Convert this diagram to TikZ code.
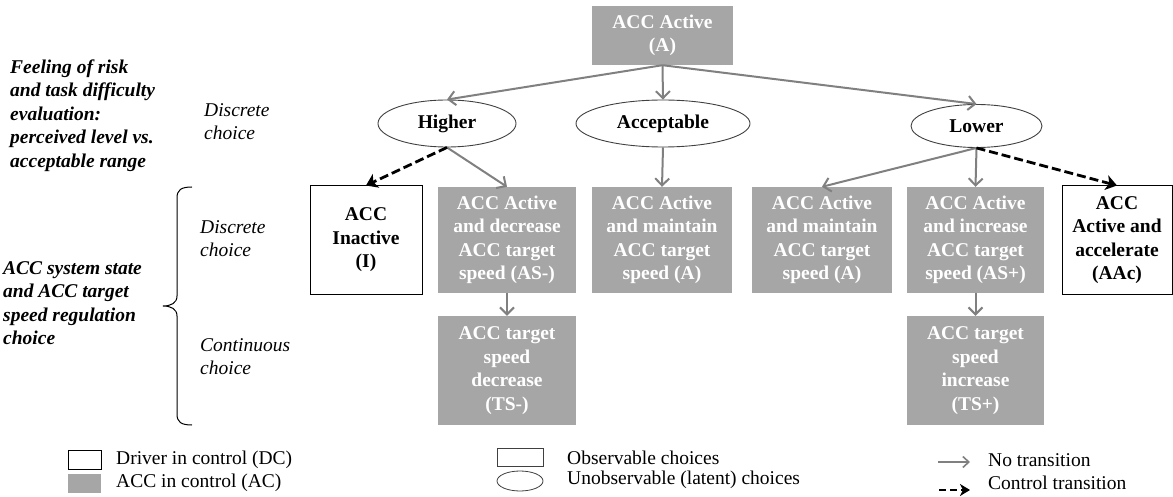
\documentclass[tikz,border=0pt]{standalone}
\usepackage{fontspec}
\setmainfont{LiberationSerif}[Extension=.ttf, UprightFont=*-Regular, BoldFont=*-Bold, ItalicFont=*-Italic, BoldItalicFont=*-BoldItalic]
\usetikzlibrary{arrows.meta,shapes.geometric}
\definecolor{boxgray}{HTML}{A6A6A6}
\definecolor{arrgray}{HTML}{808080}
\definecolor{ellline}{HTML}{404040}
\begin{document}
\begin{tikzpicture}[x=1pt,y=-1pt,
  base/.style={font=\fontsize{19.5}{23.5}\selectfont},
  gbox/.style={base, fill=boxgray, text=white, font=\fontsize{19.5}{23.5}\selectfont\bfseries, align=center, inner sep=0pt},
  wbox/.style={base, fill=white, draw=black, line width=1pt, font=\fontsize{19.5}{23.5}\selectfont\bfseries, align=center, inner sep=0pt},
  choice/.style={ellipse, draw=ellline, line width=0.9pt, font=\fontsize{19.5}{23.5}\selectfont\bfseries, inner sep=0pt},
  sidelab/.style={anchor=west, align=left, inner sep=0pt, font=\fontsize{19.5}{23.5}\selectfont\bfseries\itshape},
  levlab/.style={anchor=west, align=left, inner sep=0pt, font=\fontsize{19.5}{23.5}\selectfont\itshape},
  leglab/.style={anchor=west, inner sep=0pt, font=\fontsize{19.5}{23.5}\selectfont},
  garr/.style={draw=arrgray, line width=2pt, -{Straight Barb[length=7pt,width=14pt]}},
  darr/.style={draw=black, line width=2.8pt, dash pattern=on 9pt off 4pt, -{Stealth[length=11pt,width=15pt,inset=3pt]}}
]
\useasboundingbox (0,0) rectangle (1173,497);

% top node
\node[gbox, minimum width=141pt, minimum height=59pt] (top) at (662.5,35.5) {ACC Active\\(A)};

% latent choices
\node[choice, minimum width=138pt, minimum height=47pt] (higher) at (447,123.5) {Higher};
\node[choice, minimum width=174pt, minimum height=47pt] (accept) at (663,123.5) {Acceptable};
\node[choice, minimum width=131pt, minimum height=43pt] (lower) at (976.5,126) {Lower};

% second row
\node[wbox, minimum width=112pt, minimum height=108pt] (inact) at (366,240) {ACC\\Inactive\\(I)};
\node[gbox, minimum width=138pt, minimum height=106pt] (asm) at (507,240) {ACC Active\\and decrease\\ACC target\\speed (AS-)};
\node[gbox, minimum width=140pt, minimum height=106pt] (maina) at (662,240) {ACC Active\\and maintain\\ACC target\\speed (A)};
\node[gbox, minimum width=140pt, minimum height=106pt] (mainb) at (822,240) {ACC Active\\and maintain\\ACC target\\speed (A)};
\node[gbox, minimum width=137pt, minimum height=106pt] (asp) at (975.5,240) {ACC Active\\and increase\\ACC target\\speed (AS+)};
\node[wbox, minimum width=110pt, minimum height=108pt] (aac) at (1117,240) {ACC\\Active and\\accelerate\\(AAc)};

% third row
\node[gbox, minimum width=138pt, minimum height=109pt] (tsm) at (507,370.5) {ACC target\\speed\\decrease\\(TS-)};
\node[gbox, minimum width=137pt, minimum height=109pt] (tsp) at (975.5,370.5) {ACC target\\speed\\increase\\(TS+)};

% connectors
\draw[garr] (top.south) -- (higher.north);
\draw[garr] (top.south) -- (accept.north);
\draw[garr] (top.south) -- (lower.north);
\draw[garr] (higher.south) -- (asm.north);
\draw[darr] (higher.south) -- (inact.north);
\draw[garr] (accept.south) -- (maina.north);
\draw[garr] (lower.south) -- (mainb.north);
\draw[garr] (lower.south) -- (asp.north);
\draw[darr] (lower.south) -- (aac.north);
\draw[garr] (asm.south) -- (tsm.north);
\draw[garr] (asp.south) -- (tsp.north);

% side labels
\node[sidelab] (risk) at (10,115.5) {Feeling of risk\\and task difficulty\\evaluation:\\perceived level vs.\\acceptable range};
\node[sidelab] (state) at (3,303) {ACC system state\\and ACC target\\speed regulation\\choice};
\node[levlab] (disc1) at (204,121.5) {Discrete\\choice};
\node[levlab] (disc2) at (200,238.5) {Discrete\\choice};
\node[levlab] (cont) at (200,356.5) {Continuous\\choice};

% brace
\draw[line width=1pt] (192,187) .. controls (181,187) and (177,190) .. (177,198) -- (177,296) .. controls (177,303) and (171,306) .. (163,306) .. controls (171,306) and (177,309) .. (177,316) -- (177,414) .. controls (177,422) and (181,425) .. (192,425);

% legend
\node[draw=black, line width=0.8pt, fill=white, minimum width=33pt, minimum height=19pt, inner sep=0pt] (lgw) at (84.5,459.5) {};
\node[fill=boxgray, minimum width=33pt, minimum height=19pt, inner sep=0pt] (lgg) at (84.5,483.5) {};
\node[leglab] (lgwt) at (116,460) {Driver in control (DC)};
\node[leglab] (lggt) at (116,483) {ACC in control (AC)};

\node[draw=ellline, line width=0.8pt, minimum width=46pt, minimum height=18pt, inner sep=0pt] (lgr) at (520,457) {};
\node[ellipse, draw=ellline, line width=0.8pt, minimum width=46pt, minimum height=20pt, inner sep=0pt] (lge) at (520,481) {};
\node[leglab] (lgrt) at (567,458) {Observable choices};
\node[leglab] (lget) at (567,480) {Unobservable (latent) choices};

\coordinate (na) at (938,462);
\coordinate (nb) at (970,462);
\coordinate (ca) at (939,490);
\coordinate (cb) at (970,490);
\draw[draw=arrgray, line width=1.6pt, -{Straight Barb[length=6pt,width=11pt]}] (na) -- (nb);
\draw[draw=black, line width=2.6pt, dash pattern=on 7pt off 4pt, -{Stealth[length=10pt,width=12pt,inset=3pt]}] (ca) -- (cb);
\node[leglab] (nt) at (988,460) {No transition};
\node[leglab] (ct) at (988,483) {Control transition};
\end{tikzpicture}
\end{document}
